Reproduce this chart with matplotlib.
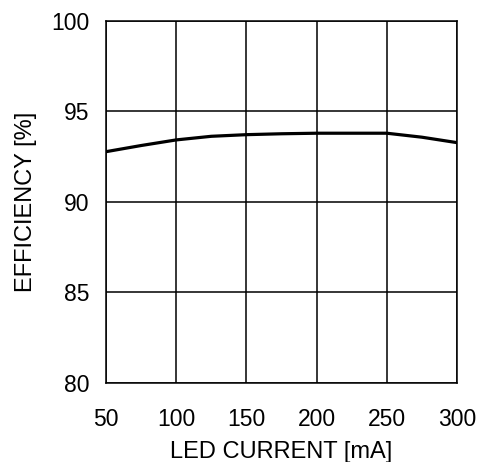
import matplotlib
matplotlib.use("Agg")
import matplotlib.pyplot as plt

# LED current [mA] vs efficiency [%]
current = [50, 75, 100, 125, 150, 175, 200, 225, 250, 275, 300]
efficiency = [92.78, 93.12, 93.43, 93.63, 93.72, 93.77, 93.80, 93.80, 93.80, 93.58, 93.28]

xTicks = [50, 100, 150, 200, 250, 300]
yTicks = [80, 85, 90, 95, 100]

plt.rcParams['font.family'] = ['Liberation Sans', 'DejaVu Sans']

fig = plt.figure(figsize=(4.78, 4.62), dpi=100)
ax = fig.add_axes([106 / 478, 1 - 383 / 462, 351 / 478, 362 / 462])

ax.plot(current, efficiency, color="black", linewidth=2.3, zorder=3)

ax.set_xlim(50, 300)
ax.set_ylim(80, 100)
ax.set_xticks(xTicks)
ax.set_yticks(yTicks)
ax.grid(True, color="black", linewidth=1.1)
for s in ax.spines.values():
    s.set_linewidth(1.1)
ax.tick_params(axis="y", length=0, labelsize=16.5, pad=12)
ax.tick_params(axis="x", length=0, labelsize=16.5, pad=18)

ax.set_xlabel("LED CURRENT [mA]", fontsize=17, labelpad=7)
ax.set_ylabel("EFFICIENCY [%]", fontsize=17, labelpad=10)

fig.savefig("out.png", dpi=100)
